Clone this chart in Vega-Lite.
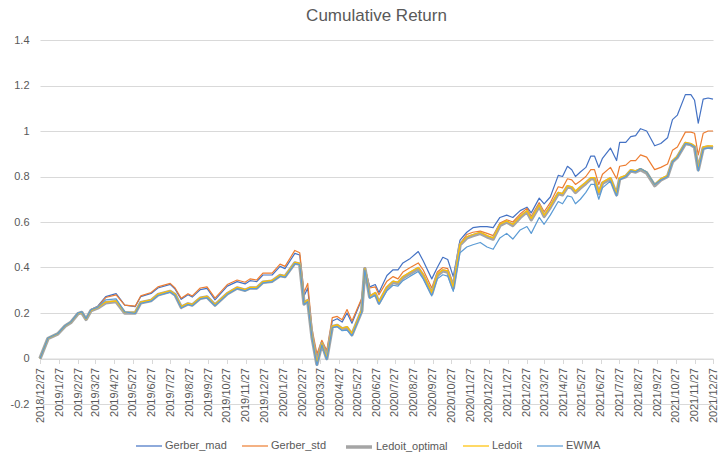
{
"$schema": "https://vega.github.io/schema/vega-lite/v6.json",
"width": 673, "height": 364,
"autosize": {"type": "none"},
"padding": {"left": 40, "top": 40, "right": 10, "bottom": 52},
"background": "white",
"title": {"text": "Cumulative Return", "fontSize": 17, "fontWeight": "normal", "color": "#595959", "font": "Liberation Sans", "offset": 9},
"data": {"format": {"parse": {"date": "utc:'%Y-%m-%d'"}}, "values": [
{"date":"2018-12-27","Gerber_mad":0,"Gerber_std":0,"Ledoit_optimal":0,"Ledoit":0,"EWMA":0},
{"date":"2019-01-09","Gerber_mad":0.09,"Gerber_std":0.09,"Ledoit_optimal":0.088,"Ledoit":0.089,"EWMA":0.09},
{"date":"2019-01-25","Gerber_mad":0.11,"Gerber_std":0.11,"Ledoit_optimal":0.108,"Ledoit":0.109,"EWMA":0.11},
{"date":"2019-02-06","Gerber_mad":0.145,"Gerber_std":0.145,"Ledoit_optimal":0.143,"Ledoit":0.144,"EWMA":0.145},
{"date":"2019-02-15","Gerber_mad":0.16,"Gerber_std":0.16,"Ledoit_optimal":0.158,"Ledoit":0.159,"EWMA":0.16},
{"date":"2019-02-27","Gerber_mad":0.2,"Gerber_std":0.2,"Ledoit_optimal":0.197,"Ledoit":0.198,"EWMA":0.2},
{"date":"2019-03-05","Gerber_mad":0.205,"Gerber_std":0.205,"Ledoit_optimal":0.202,"Ledoit":0.203,"EWMA":0.205},
{"date":"2019-03-12","Gerber_mad":0.175,"Gerber_std":0.175,"Ledoit_optimal":0.172,"Ledoit":0.173,"EWMA":0.175},
{"date":"2019-03-20","Gerber_mad":0.215,"Gerber_std":0.215,"Ledoit_optimal":0.21,"Ledoit":0.211,"EWMA":0.214},
{"date":"2019-03-31","Gerber_mad":0.23,"Gerber_std":0.228,"Ledoit_optimal":0.222,"Ledoit":0.224,"EWMA":0.226},
{"date":"2019-04-13","Gerber_mad":0.272,"Gerber_std":0.268,"Ledoit_optimal":0.245,"Ledoit":0.248,"EWMA":0.258},
{"date":"2019-04-30","Gerber_mad":0.285,"Gerber_std":0.28,"Ledoit_optimal":0.25,"Ledoit":0.253,"EWMA":0.262},
{"date":"2019-05-14","Gerber_mad":0.235,"Gerber_std":0.235,"Ledoit_optimal":0.2,"Ledoit":0.203,"EWMA":0.205},
{"date":"2019-05-31","Gerber_mad":0.228,"Gerber_std":0.23,"Ledoit_optimal":0.2,"Ledoit":0.203,"EWMA":0.198},
{"date":"2019-06-09","Gerber_mad":0.272,"Gerber_std":0.275,"Ledoit_optimal":0.245,"Ledoit":0.248,"EWMA":0.243},
{"date":"2019-06-26","Gerber_mad":0.286,"Gerber_std":0.29,"Ledoit_optimal":0.255,"Ledoit":0.258,"EWMA":0.252},
{"date":"2019-07-07","Gerber_mad":0.31,"Gerber_std":0.315,"Ledoit_optimal":0.28,"Ledoit":0.283,"EWMA":0.277},
{"date":"2019-07-27","Gerber_mad":0.326,"Gerber_std":0.33,"Ledoit_optimal":0.295,"Ledoit":0.298,"EWMA":0.292},
{"date":"2019-08-04","Gerber_mad":0.305,"Gerber_std":0.31,"Ledoit_optimal":0.28,"Ledoit":0.283,"EWMA":0.277},
{"date":"2019-08-14","Gerber_mad":0.26,"Gerber_std":0.265,"Ledoit_optimal":0.225,"Ledoit":0.228,"EWMA":0.222},
{"date":"2019-08-25","Gerber_mad":0.28,"Gerber_std":0.285,"Ledoit_optimal":0.24,"Ledoit":0.243,"EWMA":0.237},
{"date":"2019-09-01","Gerber_mad":0.27,"Gerber_std":0.275,"Ledoit_optimal":0.235,"Ledoit":0.238,"EWMA":0.232},
{"date":"2019-09-14","Gerber_mad":0.303,"Gerber_std":0.31,"Ledoit_optimal":0.265,"Ledoit":0.268,"EWMA":0.262},
{"date":"2019-09-25","Gerber_mad":0.308,"Gerber_std":0.315,"Ledoit_optimal":0.27,"Ledoit":0.273,"EWMA":0.267},
{"date":"2019-10-08","Gerber_mad":0.258,"Gerber_std":0.265,"Ledoit_optimal":0.235,"Ledoit":0.238,"EWMA":0.232},
{"date":"2019-10-28","Gerber_mad":0.318,"Gerber_std":0.325,"Ledoit_optimal":0.285,"Ledoit":0.288,"EWMA":0.282},
{"date":"2019-11-13","Gerber_mad":0.338,"Gerber_std":0.345,"Ledoit_optimal":0.31,"Ledoit":0.313,"EWMA":0.307},
{"date":"2019-11-26","Gerber_mad":0.328,"Gerber_std":0.335,"Ledoit_optimal":0.3,"Ledoit":0.303,"EWMA":0.297},
{"date":"2019-12-04","Gerber_mad":0.342,"Gerber_std":0.35,"Ledoit_optimal":0.31,"Ledoit":0.313,"EWMA":0.307},
{"date":"2019-12-15","Gerber_mad":0.338,"Gerber_std":0.345,"Ledoit_optimal":0.31,"Ledoit":0.313,"EWMA":0.307},
{"date":"2019-12-25","Gerber_mad":0.367,"Gerber_std":0.375,"Ledoit_optimal":0.335,"Ledoit":0.338,"EWMA":0.332},
{"date":"2020-01-09","Gerber_mad":0.367,"Gerber_std":0.375,"Ledoit_optimal":0.34,"Ledoit":0.343,"EWMA":0.337},
{"date":"2020-01-22","Gerber_mad":0.405,"Gerber_std":0.415,"Ledoit_optimal":0.365,"Ledoit":0.368,"EWMA":0.362},
{"date":"2020-01-30","Gerber_mad":0.395,"Gerber_std":0.405,"Ledoit_optimal":0.36,"Ledoit":0.363,"EWMA":0.357},
{"date":"2020-02-15","Gerber_mad":0.462,"Gerber_std":0.475,"Ledoit_optimal":0.42,"Ledoit":0.423,"EWMA":0.417},
{"date":"2020-02-23","Gerber_mad":0.455,"Gerber_std":0.465,"Ledoit_optimal":0.415,"Ledoit":0.418,"EWMA":0.412},
{"date":"2020-03-01","Gerber_mad":0.275,"Gerber_std":0.29,"Ledoit_optimal":0.24,"Ledoit":0.243,"EWMA":0.237},
{"date":"2020-03-07","Gerber_mad":0.31,"Gerber_std":0.33,"Ledoit_optimal":0.255,"Ledoit":0.258,"EWMA":0.25},
{"date":"2020-03-14","Gerber_mad":0.115,"Gerber_std":0.13,"Ledoit_optimal":0.095,"Ledoit":0.098,"EWMA":0.09},
{"date":"2020-03-22","Gerber_mad":0.005,"Gerber_std":0.02,"Ledoit_optimal":-0.025,"Ledoit":-0.02,"EWMA":-0.03},
{"date":"2020-03-30","Gerber_mad":0.075,"Gerber_std":0.08,"Ledoit_optimal":0.065,"Ledoit":0.068,"EWMA":0.06},
{"date":"2020-04-07","Gerber_mad":0.02,"Gerber_std":0.035,"Ledoit_optimal":0,"Ledoit":0.003,"EWMA":-0.005},
{"date":"2020-04-16","Gerber_mad":0.165,"Gerber_std":0.18,"Ledoit_optimal":0.14,"Ledoit":0.143,"EWMA":0.135},
{"date":"2020-04-24","Gerber_mad":0.175,"Gerber_std":0.185,"Ledoit_optimal":0.145,"Ledoit":0.148,"EWMA":0.14},
{"date":"2020-05-02","Gerber_mad":0.16,"Gerber_std":0.17,"Ledoit_optimal":0.13,"Ledoit":0.133,"EWMA":0.122},
{"date":"2020-05-10","Gerber_mad":0.2,"Gerber_std":0.215,"Ledoit_optimal":0.135,"Ledoit":0.14,"EWMA":0.125},
{"date":"2020-05-18","Gerber_mad":0.155,"Gerber_std":0.165,"Ledoit_optimal":0.105,"Ledoit":0.11,"EWMA":0.1},
{"date":"2020-06-03","Gerber_mad":0.26,"Gerber_std":0.265,"Ledoit_optimal":0.21,"Ledoit":0.215,"EWMA":0.205},
{"date":"2020-06-08","Gerber_mad":0.4,"Gerber_std":0.4,"Ledoit_optimal":0.395,"Ledoit":0.395,"EWMA":0.39},
{"date":"2020-06-16","Gerber_mad":0.315,"Gerber_std":0.31,"Ledoit_optimal":0.27,"Ledoit":0.275,"EWMA":0.265},
{"date":"2020-06-25","Gerber_mad":0.325,"Gerber_std":0.315,"Ledoit_optimal":0.285,"Ledoit":0.29,"EWMA":0.278},
{"date":"2020-07-01","Gerber_mad":0.29,"Gerber_std":0.28,"Ledoit_optimal":0.245,"Ledoit":0.25,"EWMA":0.238},
{"date":"2020-07-14","Gerber_mad":0.365,"Gerber_std":0.34,"Ledoit_optimal":0.31,"Ledoit":0.315,"EWMA":0.298},
{"date":"2020-07-24","Gerber_mad":0.39,"Gerber_std":0.36,"Ledoit_optimal":0.335,"Ledoit":0.34,"EWMA":0.322},
{"date":"2020-08-01","Gerber_mad":0.39,"Gerber_std":0.35,"Ledoit_optimal":0.33,"Ledoit":0.335,"EWMA":0.318},
{"date":"2020-08-09","Gerber_mad":0.42,"Gerber_std":0.38,"Ledoit_optimal":0.355,"Ledoit":0.36,"EWMA":0.342},
{"date":"2020-08-21","Gerber_mad":0.44,"Gerber_std":0.4,"Ledoit_optimal":0.375,"Ledoit":0.38,"EWMA":0.362},
{"date":"2020-09-03","Gerber_mad":0.47,"Gerber_std":0.42,"Ledoit_optimal":0.395,"Ledoit":0.4,"EWMA":0.382},
{"date":"2020-09-11","Gerber_mad":0.43,"Gerber_std":0.39,"Ledoit_optimal":0.365,"Ledoit":0.37,"EWMA":0.35},
{"date":"2020-09-25","Gerber_mad":0.35,"Gerber_std":0.31,"Ledoit_optimal":0.285,"Ledoit":0.29,"EWMA":0.275},
{"date":"2020-10-04","Gerber_mad":0.4,"Gerber_std":0.38,"Ledoit_optimal":0.365,"Ledoit":0.37,"EWMA":0.35},
{"date":"2020-10-13","Gerber_mad":0.445,"Gerber_std":0.4,"Ledoit_optimal":0.385,"Ledoit":0.39,"EWMA":0.368},
{"date":"2020-10-21","Gerber_mad":0.435,"Gerber_std":0.395,"Ledoit_optimal":0.38,"Ledoit":0.385,"EWMA":0.362},
{"date":"2020-10-30","Gerber_mad":0.36,"Gerber_std":0.33,"Ledoit_optimal":0.31,"Ledoit":0.315,"EWMA":0.295},
{"date":"2020-11-10","Gerber_mad":0.52,"Gerber_std":0.505,"Ledoit_optimal":0.5,"Ledoit":0.503,"EWMA":0.465},
{"date":"2020-11-21","Gerber_mad":0.555,"Gerber_std":0.545,"Ledoit_optimal":0.53,"Ledoit":0.535,"EWMA":0.49},
{"date":"2020-12-01","Gerber_mad":0.575,"Gerber_std":0.555,"Ledoit_optimal":0.54,"Ledoit":0.545,"EWMA":0.5},
{"date":"2020-12-13","Gerber_mad":0.58,"Gerber_std":0.56,"Ledoit_optimal":0.55,"Ledoit":0.555,"EWMA":0.51},
{"date":"2020-12-24","Gerber_mad":0.58,"Gerber_std":0.55,"Ledoit_optimal":0.535,"Ledoit":0.54,"EWMA":0.49},
{"date":"2021-01-03","Gerber_mad":0.575,"Gerber_std":0.54,"Ledoit_optimal":0.525,"Ledoit":0.53,"EWMA":0.48},
{"date":"2021-01-14","Gerber_mad":0.62,"Gerber_std":0.595,"Ledoit_optimal":0.585,"Ledoit":0.59,"EWMA":0.53},
{"date":"2021-01-25","Gerber_mad":0.63,"Gerber_std":0.61,"Ledoit_optimal":0.6,"Ledoit":0.605,"EWMA":0.55},
{"date":"2021-02-04","Gerber_mad":0.62,"Gerber_std":0.6,"Ledoit_optimal":0.585,"Ledoit":0.59,"EWMA":0.525},
{"date":"2021-02-16","Gerber_mad":0.65,"Gerber_std":0.635,"Ledoit_optimal":0.62,"Ledoit":0.625,"EWMA":0.565},
{"date":"2021-02-27","Gerber_mad":0.665,"Gerber_std":0.66,"Ledoit_optimal":0.645,"Ledoit":0.65,"EWMA":0.58},
{"date":"2021-03-06","Gerber_mad":0.64,"Gerber_std":0.625,"Ledoit_optimal":0.61,"Ledoit":0.615,"EWMA":0.55},
{"date":"2021-03-19","Gerber_mad":0.705,"Gerber_std":0.685,"Ledoit_optimal":0.67,"Ledoit":0.675,"EWMA":0.62},
{"date":"2021-03-27","Gerber_mad":0.68,"Gerber_std":0.645,"Ledoit_optimal":0.625,"Ledoit":0.63,"EWMA":0.59},
{"date":"2021-04-06","Gerber_mad":0.71,"Gerber_std":0.685,"Ledoit_optimal":0.665,"Ledoit":0.67,"EWMA":0.63},
{"date":"2021-04-19","Gerber_mad":0.805,"Gerber_std":0.755,"Ledoit_optimal":0.725,"Ledoit":0.73,"EWMA":0.69},
{"date":"2021-04-26","Gerber_mad":0.8,"Gerber_std":0.75,"Ledoit_optimal":0.72,"Ledoit":0.725,"EWMA":0.68},
{"date":"2021-05-04","Gerber_mad":0.845,"Gerber_std":0.79,"Ledoit_optimal":0.755,"Ledoit":0.76,"EWMA":0.715},
{"date":"2021-05-11","Gerber_mad":0.83,"Gerber_std":0.785,"Ledoit_optimal":0.75,"Ledoit":0.755,"EWMA":0.71},
{"date":"2021-05-17","Gerber_mad":0.8,"Gerber_std":0.765,"Ledoit_optimal":0.73,"Ledoit":0.735,"EWMA":0.68},
{"date":"2021-05-25","Gerber_mad":0.82,"Gerber_std":0.78,"Ledoit_optimal":0.75,"Ledoit":0.755,"EWMA":0.7},
{"date":"2021-06-03","Gerber_mad":0.84,"Gerber_std":0.8,"Ledoit_optimal":0.77,"Ledoit":0.775,"EWMA":0.73},
{"date":"2021-06-11","Gerber_mad":0.89,"Gerber_std":0.83,"Ledoit_optimal":0.79,"Ledoit":0.795,"EWMA":0.765},
{"date":"2021-06-17","Gerber_mad":0.89,"Gerber_std":0.83,"Ledoit_optimal":0.79,"Ledoit":0.795,"EWMA":0.765},
{"date":"2021-06-24","Gerber_mad":0.84,"Gerber_std":0.765,"Ledoit_optimal":0.725,"Ledoit":0.73,"EWMA":0.7},
{"date":"2021-06-30","Gerber_mad":0.88,"Gerber_std":0.81,"Ledoit_optimal":0.77,"Ledoit":0.775,"EWMA":0.75},
{"date":"2021-07-13","Gerber_mad":0.925,"Gerber_std":0.84,"Ledoit_optimal":0.79,"Ledoit":0.795,"EWMA":0.78},
{"date":"2021-07-23","Gerber_mad":0.87,"Gerber_std":0.79,"Ledoit_optimal":0.72,"Ledoit":0.725,"EWMA":0.715},
{"date":"2021-07-28","Gerber_mad":0.95,"Gerber_std":0.845,"Ledoit_optimal":0.79,"Ledoit":0.795,"EWMA":0.785},
{"date":"2021-08-07","Gerber_mad":0.95,"Gerber_std":0.85,"Ledoit_optimal":0.8,"Ledoit":0.805,"EWMA":0.8},
{"date":"2021-08-15","Gerber_mad":0.975,"Gerber_std":0.87,"Ledoit_optimal":0.825,"Ledoit":0.83,"EWMA":0.825},
{"date":"2021-08-23","Gerber_mad":0.98,"Gerber_std":0.87,"Ledoit_optimal":0.82,"Ledoit":0.825,"EWMA":0.82},
{"date":"2021-08-31","Gerber_mad":1.01,"Gerber_std":0.895,"Ledoit_optimal":0.83,"Ledoit":0.835,"EWMA":0.835},
{"date":"2021-09-10","Gerber_mad":1.0,"Gerber_std":0.885,"Ledoit_optimal":0.815,"Ledoit":0.82,"EWMA":0.82},
{"date":"2021-09-23","Gerber_mad":0.935,"Gerber_std":0.83,"Ledoit_optimal":0.76,"Ledoit":0.765,"EWMA":0.765},
{"date":"2021-10-03","Gerber_mad":0.945,"Gerber_std":0.84,"Ledoit_optimal":0.785,"Ledoit":0.79,"EWMA":0.785},
{"date":"2021-10-14","Gerber_mad":0.97,"Gerber_std":0.855,"Ledoit_optimal":0.8,"Ledoit":0.805,"EWMA":0.8},
{"date":"2021-10-22","Gerber_mad":1.05,"Gerber_std":0.915,"Ledoit_optimal":0.865,"Ledoit":0.87,"EWMA":0.865},
{"date":"2021-10-30","Gerber_mad":1.07,"Gerber_std":0.93,"Ledoit_optimal":0.885,"Ledoit":0.89,"EWMA":0.885},
{"date":"2021-11-12","Gerber_mad":1.16,"Gerber_std":0.995,"Ledoit_optimal":0.945,"Ledoit":0.95,"EWMA":0.945},
{"date":"2021-11-21","Gerber_mad":1.16,"Gerber_std":0.995,"Ledoit_optimal":0.94,"Ledoit":0.945,"EWMA":0.94},
{"date":"2021-11-27","Gerber_mad":1.135,"Gerber_std":0.99,"Ledoit_optimal":0.93,"Ledoit":0.935,"EWMA":0.93},
{"date":"2021-12-03","Gerber_mad":1.035,"Gerber_std":0.895,"Ledoit_optimal":0.83,"Ledoit":0.835,"EWMA":0.825},
{"date":"2021-12-11","Gerber_mad":1.14,"Gerber_std":0.99,"Ledoit_optimal":0.925,"Ledoit":0.93,"EWMA":0.92},
{"date":"2021-12-19","Gerber_mad":1.145,"Gerber_std":1.0,"Ledoit_optimal":0.93,"Ledoit":0.935,"EWMA":0.925},
{"date":"2021-12-27","Gerber_mad":1.14,"Gerber_std":1.0,"Ledoit_optimal":0.925,"Ledoit":0.935,"EWMA":0.925}
]},
"transform": [{"fold": ["Gerber_mad","Gerber_std","Ledoit_optimal","Ledoit","EWMA"], "as": ["series","value"]}],
"mark": {"type": "line", "strokeJoin": "round"},
"encoding": {
  "x": {"field": "date", "type": "temporal",
    "scale": {"type": "utc", "nice": false, "domain": [{"year":2018,"month":12,"date":27,"utc":true},{"year":2021,"month":12,"date":27,"utc":true}]},
    "axis": {"title": null, "grid": false, "offset": -45.5, "labelExpr": "utcFormat(datum.value, '%Y/%-m/%-d')",
      "labelAngle": 270, "labelAlign": "right", "labelBaseline": "middle", "labelPadding": 4, "labelFontSize": 11, "labelColor": "#595959", "labelFont": "Liberation Sans",
      "labelOverlap": false, "labelFlush": false, "labelBound": false,
      "tickColor": "#d9d9d9", "tickSize": 5, "domainColor": "#d9d9d9",
      "values": [
        {"year":2018,"month":12,"date":27,"utc":true},
        {"year":2019,"month":1,"date":27,"utc":true},{"year":2019,"month":2,"date":27,"utc":true},{"year":2019,"month":3,"date":27,"utc":true},{"year":2019,"month":4,"date":27,"utc":true},{"year":2019,"month":5,"date":27,"utc":true},{"year":2019,"month":6,"date":27,"utc":true},{"year":2019,"month":7,"date":27,"utc":true},{"year":2019,"month":8,"date":27,"utc":true},{"year":2019,"month":9,"date":27,"utc":true},{"year":2019,"month":10,"date":27,"utc":true},{"year":2019,"month":11,"date":27,"utc":true},{"year":2019,"month":12,"date":27,"utc":true},
        {"year":2020,"month":1,"date":27,"utc":true},{"year":2020,"month":2,"date":27,"utc":true},{"year":2020,"month":3,"date":27,"utc":true},{"year":2020,"month":4,"date":27,"utc":true},{"year":2020,"month":5,"date":27,"utc":true},{"year":2020,"month":6,"date":27,"utc":true},{"year":2020,"month":7,"date":27,"utc":true},{"year":2020,"month":8,"date":27,"utc":true},{"year":2020,"month":9,"date":27,"utc":true},{"year":2020,"month":10,"date":27,"utc":true},{"year":2020,"month":11,"date":27,"utc":true},{"year":2020,"month":12,"date":27,"utc":true},
        {"year":2021,"month":1,"date":27,"utc":true},{"year":2021,"month":2,"date":27,"utc":true},{"year":2021,"month":3,"date":27,"utc":true},{"year":2021,"month":4,"date":27,"utc":true},{"year":2021,"month":5,"date":27,"utc":true},{"year":2021,"month":6,"date":27,"utc":true},{"year":2021,"month":7,"date":27,"utc":true},{"year":2021,"month":8,"date":27,"utc":true},{"year":2021,"month":9,"date":27,"utc":true},{"year":2021,"month":10,"date":27,"utc":true},{"year":2021,"month":11,"date":27,"utc":true},{"year":2021,"month":12,"date":27,"utc":true}
      ]}},
  "y": {"field": "value", "type": "quantitative",
    "scale": {"domain": [-0.2, 1.4], "nice": false, "zero": false},
    "axis": {"title": null, "values": [-0.2,0,0.2,0.4,0.6,0.8,1,1.2,1.4], "format": "~g", "domain": false, "ticks": false,
      "gridColor": "#d9d9d9", "labelPadding": 11, "labelFontSize": 11, "labelColor": "#595959", "labelFont": "Liberation Sans"}},
  "color": {"field": "series", "type": "nominal",
    "scale": {"domain": ["Gerber_mad","Gerber_std","Ledoit_optimal","Ledoit","EWMA"], "range": ["#4472C4","#ED7D31","#A5A5A5","#FFC000","#5B9BD5"]},
    "legend": {"orient": "none", "legendX": 95, "legendY": 392, "direction": "horizontal", "title": null, "symbolType": "stroke", "symbolSize": 676, "gridAlign": "none",
      "labelFontSize": 11, "labelColor": "#595959", "labelFont": "Liberation Sans", "columnPadding": 12, "labelOffset": 2}},
  "strokeWidth": {"field": "series", "type": "nominal",
    "scale": {"type": "ordinal", "domain": ["Gerber_mad","Gerber_std","Ledoit_optimal","Ledoit","EWMA"], "range": [1.2,1.2,3.5,1.2,1.2]}}
},
"config": {
  "view": {"stroke": null},
  "legend": {"gridAlign": "none"},
  "locale": {"number": {"decimal": ".", "thousands": ",", "grouping": [3], "currency": ["$", ""], "minus": "-"}}
}
}
